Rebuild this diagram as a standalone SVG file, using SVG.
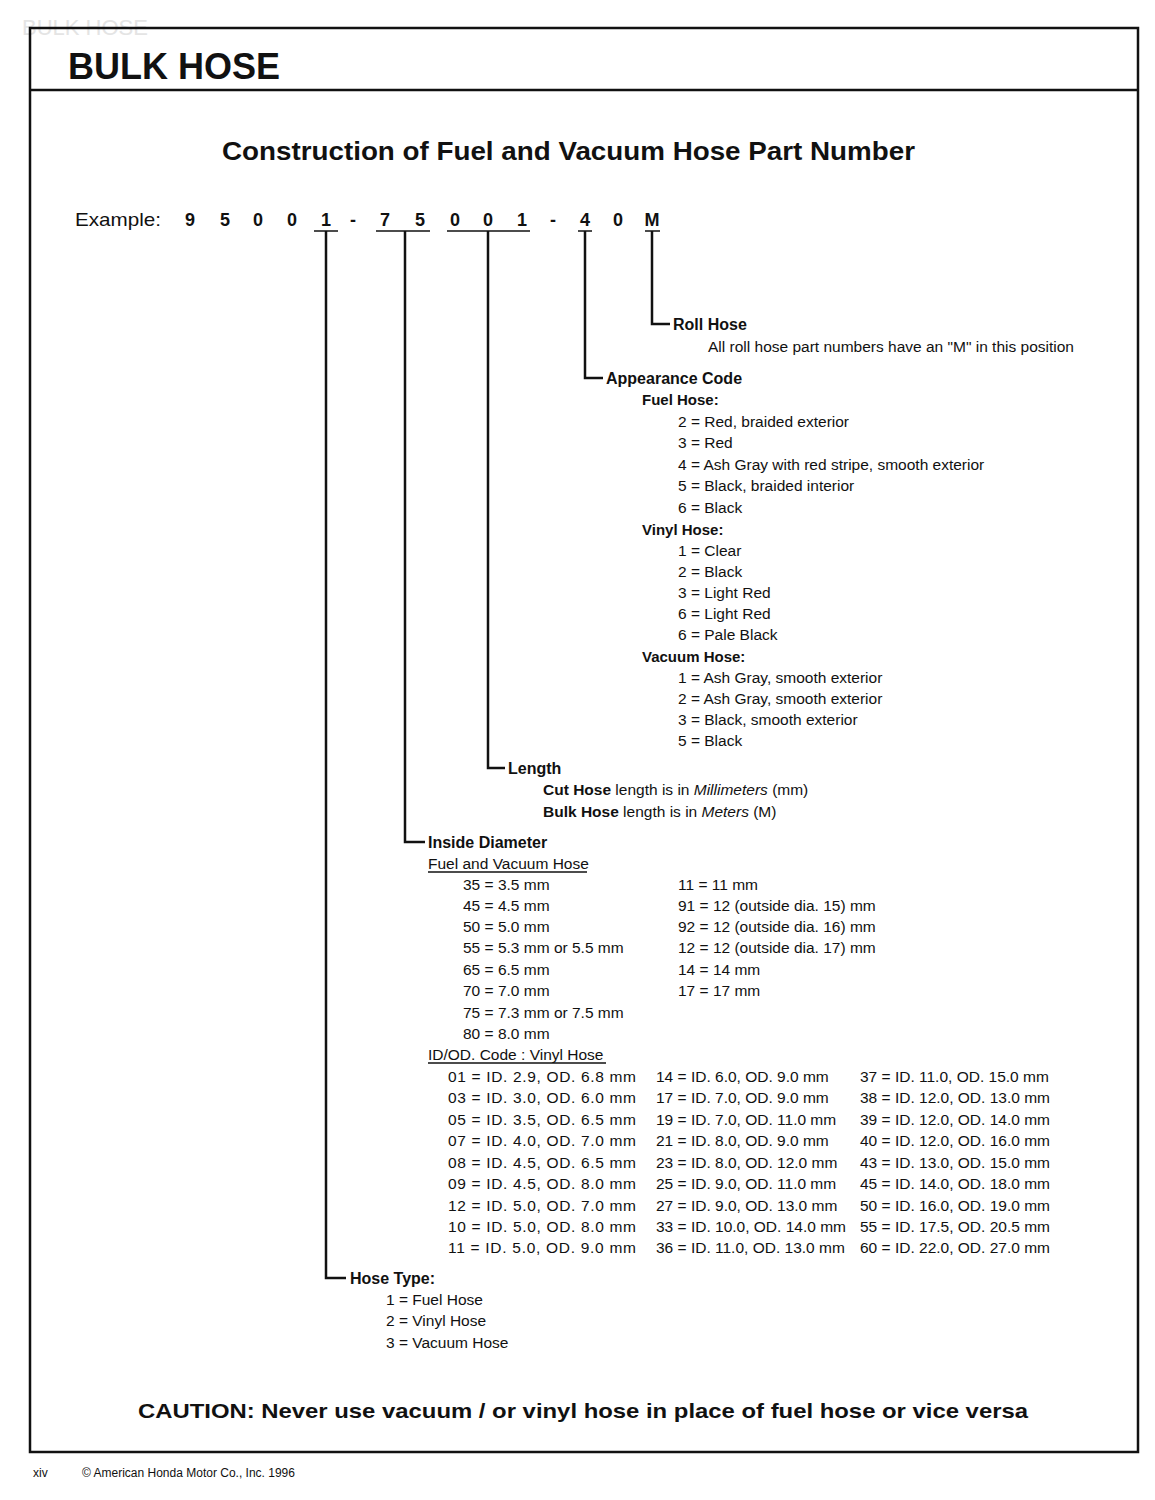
<svg xmlns="http://www.w3.org/2000/svg" width="1155" height="1500" viewBox="0 0 1155 1500">
<style>
text{font-family:"Liberation Sans",Arial,Helvetica,sans-serif;fill:#111}
.t{font-size:15.5px}
.b{font-weight:bold}
.h{font-size:16px;font-weight:bold}
.s{font-size:15px;font-weight:bold}
.tb{font-size:15.5px}
.d{font-size:18px;font-weight:bold}
.ln{stroke:#111;stroke-width:2.5;fill:none}
.ul{stroke:#111;stroke-width:1.5}
</style>
<rect width="1155" height="1500" fill="#fff"/>
<text x="22" y="35" font-size="22" style="fill:#e4e4e4">BULK HOSE</text>
<g id="frame">
<path class="ln" d="M30 28 H1138 V1452 H30 Z"/>
<line class="ln" x1="30" y1="90" x2="1138" y2="90"/>
</g>
<g id="title">
<text x="68" y="79" font-size="36" class="b">BULK HOSE</text>
<text x="222" y="160" font-size="26" class="b" textLength="693" lengthAdjust="spacingAndGlyphs">Construction of Fuel and Vacuum Hose Part Number</text>
</g>
<g id="example">
<text x="75" y="226" font-size="19" textLength="86" lengthAdjust="spacingAndGlyphs">Example:</text>
<text class="d" x="190" y="226" text-anchor="middle">9</text>
<text class="d" x="225" y="226" text-anchor="middle">5</text>
<text class="d" x="258" y="226" text-anchor="middle">0</text>
<text class="d" x="292" y="226" text-anchor="middle">0</text>
<text class="d" x="326" y="226" text-anchor="middle">1</text>
<text class="d" x="353" y="226" text-anchor="middle">-</text>
<text class="d" x="385" y="226" text-anchor="middle">7</text>
<text class="d" x="420" y="226" text-anchor="middle">5</text>
<text class="d" x="455" y="226" text-anchor="middle">0</text>
<text class="d" x="488" y="226" text-anchor="middle">0</text>
<text class="d" x="522" y="226" text-anchor="middle">1</text>
<text class="d" x="553" y="226" text-anchor="middle">-</text>
<text class="d" x="585" y="226" text-anchor="middle">4</text>
<text class="d" x="618" y="226" text-anchor="middle">0</text>
<text class="d" x="652" y="226" text-anchor="middle">M</text>
<line class="ul" x1="314" y1="231" x2="338" y2="231"/>
<line class="ul" x1="376" y1="231" x2="430" y2="231"/>
<line class="ul" x1="447" y1="231" x2="530" y2="231"/>
<line class="ul" x1="578" y1="231" x2="592" y2="231"/>
<line class="ul" x1="645" y1="231" x2="660" y2="231"/>
</g>
<g id="connectors">
<path class="ln" d="M326 231 V1278 H346"/>
<path class="ln" d="M405 231 V842 H425"/>
<path class="ln" d="M488 231 V768 H505"/>
<path class="ln" d="M585 231 V378 H603"/>
<path class="ln" d="M652 231 V324 H670"/>
</g>
<g id="roll-hose">
<text class="h" x="673" y="330">Roll Hose</text>
<text class="t" x="708" y="352">All roll hose part numbers have an "M" in this position</text>
</g>
<g id="appearance-code">
<text class="h" x="606" y="384">Appearance Code</text>
<text class="s" x="642" y="405">Fuel Hose:</text>
<text class="t" x="678" y="427">2 = Red, braided exterior</text>
<text class="t" x="678" y="448">3 = Red</text>
<text class="t" x="678" y="470">4 = Ash Gray with red stripe, smooth exterior</text>
<text class="t" x="678" y="491">5 = Black, braided interior</text>
<text class="t" x="678" y="513">6 = Black</text>
<text class="s" x="642" y="535">Vinyl Hose:</text>
<text class="t" x="678" y="556">1 = Clear</text>
<text class="t" x="678" y="577">2 = Black</text>
<text class="t" x="678" y="598">3 = Light Red</text>
<text class="t" x="678" y="619">6 = Light Red</text>
<text class="t" x="678" y="640">6 = Pale Black</text>
<text class="s" x="642" y="662">Vacuum Hose:</text>
<text class="t" x="678" y="683">1 = Ash Gray, smooth exterior</text>
<text class="t" x="678" y="704">2 = Ash Gray, smooth exterior</text>
<text class="t" x="678" y="725">3 = Black, smooth exterior</text>
<text class="t" x="678" y="746">5 = Black</text>
</g>
<g id="length">
<text class="h" x="508" y="774">Length</text>
<text class="t" x="543" y="795"><tspan class="b">Cut Hose</tspan> length is in <tspan font-style="italic">Millimeters</tspan> (mm)</text>
<text class="t" x="543" y="817"><tspan class="b">Bulk Hose</tspan> length is in <tspan font-style="italic">Meters</tspan> (M)</text>
</g>
<g id="inside-diameter">
<text class="h" x="428" y="848">Inside Diameter</text>
<text class="t" x="428" y="869">Fuel and Vacuum Hose</text>
<line class="ul" x1="428" y1="872" x2="587" y2="872" stroke-width="1.2"/>
<text class="t" x="463" y="890">35 = 3.5 mm</text>
<text class="t" x="463" y="911">45 = 4.5 mm</text>
<text class="t" x="463" y="932">50 = 5.0 mm</text>
<text class="t" x="463" y="953">55 = 5.3 mm or 5.5 mm</text>
<text class="t" x="463" y="975">65 = 6.5 mm</text>
<text class="t" x="463" y="996">70 = 7.0 mm</text>
<text class="t" x="463" y="1018">75 = 7.3 mm or 7.5 mm</text>
<text class="t" x="463" y="1039">80 = 8.0 mm</text>
<text class="t" x="678" y="890">11 = 11 mm</text>
<text class="t" x="678" y="911">91 = 12 (outside dia. 15) mm</text>
<text class="t" x="678" y="932">92 = 12 (outside dia. 16) mm</text>
<text class="t" x="678" y="953">12 = 12 (outside dia. 17) mm</text>
<text class="t" x="678" y="975">14 = 14 mm</text>
<text class="t" x="678" y="996">17 = 17 mm</text>
<text class="t" x="428" y="1060">ID/OD. Code : Vinyl Hose</text>
<line class="ul" x1="428" y1="1063" x2="606" y2="1063" stroke-width="1.2"/>
<text class="tb" x="448" y="1082" textLength="188">01 = ID. 2.9, OD. 6.8 mm</text>
<text class="tb" x="448" y="1103" textLength="188">03 = ID. 3.0, OD. 6.0 mm</text>
<text class="tb" x="448" y="1125" textLength="188">05 = ID. 3.5, OD. 6.5 mm</text>
<text class="tb" x="448" y="1146" textLength="188">07 = ID. 4.0, OD. 7.0 mm</text>
<text class="tb" x="448" y="1168" textLength="188">08 = ID. 4.5, OD. 6.5 mm</text>
<text class="tb" x="448" y="1189" textLength="188">09 = ID. 4.5, OD. 8.0 mm</text>
<text class="tb" x="448" y="1211" textLength="188">12 = ID. 5.0, OD. 7.0 mm</text>
<text class="tb" x="448" y="1232" textLength="188">10 = ID. 5.0, OD. 8.0 mm</text>
<text class="tb" x="448" y="1253" textLength="188">11 = ID. 5.0, OD. 9.0 mm</text>
<text class="tb" x="656" y="1082">14 = ID. 6.0, OD. 9.0 mm</text>
<text class="tb" x="656" y="1103">17 = ID. 7.0, OD. 9.0 mm</text>
<text class="tb" x="656" y="1125">19 = ID. 7.0, OD. 11.0 mm</text>
<text class="tb" x="656" y="1146">21 = ID. 8.0, OD. 9.0 mm</text>
<text class="tb" x="656" y="1168">23 = ID. 8.0, OD. 12.0 mm</text>
<text class="tb" x="656" y="1189">25 = ID. 9.0, OD. 11.0 mm</text>
<text class="tb" x="656" y="1211">27 = ID. 9.0, OD. 13.0 mm</text>
<text class="tb" x="656" y="1232">33 = ID. 10.0, OD. 14.0 mm</text>
<text class="tb" x="656" y="1253">36 = ID. 11.0, OD. 13.0 mm</text>
<text class="tb" x="860" y="1082">37 = ID. 11.0, OD. 15.0 mm</text>
<text class="tb" x="860" y="1103">38 = ID. 12.0, OD. 13.0 mm</text>
<text class="tb" x="860" y="1125">39 = ID. 12.0, OD. 14.0 mm</text>
<text class="tb" x="860" y="1146">40 = ID. 12.0, OD. 16.0 mm</text>
<text class="tb" x="860" y="1168">43 = ID. 13.0, OD. 15.0 mm</text>
<text class="tb" x="860" y="1189">45 = ID. 14.0, OD. 18.0 mm</text>
<text class="tb" x="860" y="1211">50 = ID. 16.0, OD. 19.0 mm</text>
<text class="tb" x="860" y="1232">55 = ID. 17.5, OD. 20.5 mm</text>
<text class="tb" x="860" y="1253">60 = ID. 22.0, OD. 27.0 mm</text>
</g>
<g id="hose-type">
<text class="h" x="350" y="1284">Hose Type:</text>
<text class="t" x="386" y="1305">1 = Fuel Hose</text>
<text class="t" x="386" y="1326">2 = Vinyl Hose</text>
<text class="t" x="386" y="1348">3 = Vacuum Hose</text>
</g>
<g id="caution">
<text x="138" y="1418" font-size="21" class="b" textLength="890" lengthAdjust="spacingAndGlyphs">CAUTION: Never use vacuum / or vinyl hose in place of fuel hose or vice versa</text>
</g>
<g id="footer">
<text x="33" y="1477" font-size="12">xiv</text>
<text x="82" y="1477" font-size="12">© American Honda Motor Co., Inc. 1996</text>
</g>
</svg>
